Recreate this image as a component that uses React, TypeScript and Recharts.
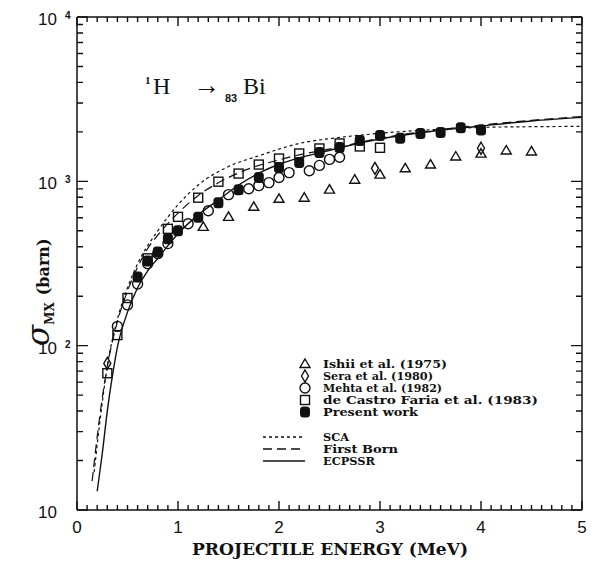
import { ComposedChart, Line, Scatter, XAxis, YAxis } from "recharts"

// measured points, energy in MeV, cross section in barn
const ishiiE = [1.25, 1.5, 1.75, 2.0, 2.25, 2.5, 2.75, 3.0, 3.25, 3.5, 3.75, 4.0, 4.25, 4.5]
const ishiiV = [528, 608, 700, 783, 795, 890, 1023, 1098, 1200, 1265, 1416, 1475, 1540, 1520]

const seraE = [0.3, 2.95, 4.0]
const seraV = [78, 1200, 1590]

const mehtaE = [0.4, 0.5, 0.6, 0.7, 0.8, 0.9, 1.1, 1.3, 1.5, 1.7, 1.8, 1.9, 2.0, 2.1, 2.3, 2.4, 2.5, 2.6]
const mehtaV = [131, 177, 237, 315, 363, 418, 552, 662, 830, 902, 942, 982, 1055, 1130, 1160, 1250, 1360, 1400]

const castroE = [0.3, 0.4, 0.5, 0.7, 0.9, 1.0, 1.2, 1.4, 1.6, 1.8, 2.0, 2.2, 2.4, 2.6, 2.8, 3.0]
const castroV = [68, 116, 195, 340, 514, 608, 795, 995, 1115, 1265, 1376, 1477, 1585, 1700, 1630, 1600]

const presentE = [0.6, 0.7, 0.8, 0.9, 1.0, 1.2, 1.4, 1.6, 1.8, 2.0, 2.2, 2.4, 2.6, 2.8, 3.0, 3.2, 3.4, 3.6, 3.8, 4.0]
const presentV = [262, 328, 372, 447, 500, 605, 741, 890, 1055, 1213, 1300, 1496, 1607, 1775, 1900, 1830, 1955, 1980, 2120, 2050]

// theory curves
const scaE = [0.17, 0.2, 0.25, 0.3, 0.4, 0.5, 0.6, 0.8, 1.0, 1.2, 1.5, 1.8, 2.2, 2.6, 3.0, 3.5, 4.0, 4.5, 5.0]
const scaV = [17, 25, 45, 75, 145, 225, 315, 500, 720, 950, 1230, 1430, 1700, 1850, 1960, 2060, 2130, 2150, 2160]

const bornE = [0.15, 0.2, 0.25, 0.3, 0.4, 0.5, 0.6, 0.7, 0.8, 1.0, 1.2, 1.4, 1.6, 1.8, 2.0, 2.2, 2.4, 2.6, 3.0, 3.5, 4.0, 4.5, 5.0]
const bornV = [15, 28, 48, 75, 140, 215, 300, 390, 470, 640, 820, 980, 1125, 1250, 1350, 1450, 1530, 1620, 1830, 2030, 2200, 2350, 2480]

const ecpssrE = [0.2, 0.25, 0.3, 0.35, 0.4, 0.5, 0.6, 0.7, 0.8, 1.0, 1.2, 1.4, 1.6, 1.8, 2.0, 2.2, 2.4, 2.6, 2.8, 3.0, 3.5, 4.0, 4.5, 5.0]
const ecpssrV = [13, 22, 40, 65, 98, 160, 225, 285, 340, 480, 625, 770, 950, 1120, 1270, 1390, 1490, 1600, 1710, 1810, 2010, 2170, 2330, 2450]

const xMajor = [0, 1, 2, 3, 4, 5]
const xMinor = Array.from({ length: 51 }, (_, i) => i / 10)
const yMajor = [10, 100, 1000, 10000]
const yMinor = [
  20, 30, 40, 50, 60, 70, 80, 90,
  200, 300, 400, 500, 600, 700, 800, 900,
  2000, 3000, 4000, 5000, 6000, 7000, 8000, 9000,
]

const pts = (e: number[], v: number[]) => e.map((x, i) => ({ e: x, v: v[i] }))

const INK = "#111"
const serif = "'DejaVu Serif', serif"
const sans = "'Liberation Sans', Arial, sans-serif"
const frame = { stroke: INK, strokeWidth: 1.5 }

// plot rectangle inside the chart surface
const W = 586
const H = 553
const PL = 69
const PR = 574
const PT = 9
const PB = 502

function XLabel({ x, y, payload }: any) {
  return (
    <text x={x} y={y + 23} textAnchor="middle" fontFamily={sans} fontSize={17} fill={INK}>
      {payload.value}
    </text>
  )
}

function YLabel({ x, y, payload }: any) {
  const exp = Math.round(Math.log10(payload.value))
  return (
    <g>
      <text x={x - 20} y={y + 8} textAnchor="end" fontFamily={sans} fontSize={17} fill={INK}>
        10
      </text>
      {exp > 1 && (
        <text x={x - 12} y={y + 2} fontFamily={sans} fontWeight="bold" fontSize={10} fill={INK}>
          {exp}
        </text>
      )}
    </g>
  )
}

// inward tick marks on all four sides of the frame
function FrameTicks() {
  const tx = (v: number) => PL + (v / 5) * (PR - PL)
  const ty = (v: number) => PB - ((Math.log10(v) - 1) / 3) * (PB - PT)
  const isMajorX = (v: number) => xMajor.some((m) => Math.abs(m - v) < 1e-6)
  const segs: string[] = []
  xMinor.forEach((v) => {
    const len = isMajorX(v) ? 9 : 5
    const x = tx(v)
    segs.push(`M${x},${PB}v${-len}`, `M${x},${PT}v${len}`)
  })
  yMinor.forEach((v) => {
    const y = ty(v)
    segs.push(`M${PL},${y}h6`, `M${PR},${y}h-6`)
  })
  yMajor.forEach((v) => {
    const y = ty(v)
    segs.push(`M${PL},${y}h11`, `M${PR},${y}h-11`)
  })
  return <path d={segs.join(" ")} stroke={INK} strokeWidth={1.4} fill="none" />
}

const triangle = (p: any) => (
  <path d={`M${p.cx},${p.cy - 5} L${p.cx + 5},${p.cy + 3.5} L${p.cx - 5},${p.cy + 3.5}Z`} fill="none" stroke={INK} strokeWidth={1.4} />
)
const diamond = (p: any) => (
  <path d={`M${p.cx},${p.cy - 6} L${p.cx + 3.5},${p.cy} L${p.cx},${p.cy + 6} L${p.cx - 3.5},${p.cy}Z`} fill="none" stroke={INK} strokeWidth={1.4} />
)
const ring = (p: any) => <circle cx={p.cx} cy={p.cy} r={5} fill="none" stroke={INK} strokeWidth={1.4} />
const box = (p: any) => <rect x={p.cx - 4.5} y={p.cy - 4.5} width={9} height={9} fill="none" stroke={INK} strokeWidth={1.4} />
const filled = (p: any) => <rect x={p.cx - 5} y={p.cy - 5.5} width={10} height={11} rx={3.5} fill={INK} />

const legendRows = [
  { label: "Ishii et al. (1975)", shape: triangle, y: 356, w: 124 },
  { label: "Sera et al. (1980)", shape: diamond, y: 368, w: 110 },
  { label: "Mehta et al. (1982)", shape: ring, y: 380, w: 119 },
  { label: "de Castro Faria et al. (1983)", shape: box, y: 392, w: 215 },
  { label: "Present work", shape: filled, y: 404, w: 95 },
]
const legendLines = [
  { label: "SCA", dash: "3 3", y: 429, w: 26 },
  { label: "First Born", dash: "9 5", y: 441, w: 75 },
  { label: "ECPSSR", dash: undefined, y: 453, w: 52 },
]

export default function App() {
  const common = { type: "number" as const, allowDataOverflow: true, interval: 0 as const }
  return (
    <div style={{ position: "absolute", left: 8, top: 8, width: W, height: H }}>
      <ComposedChart width={W} height={H} margin={{ top: 0, right: 0, bottom: 0, left: 0 }}>
        <XAxis xAxisId="bottom" dataKey="e" {...common} domain={[0, 5]} ticks={xMajor} height={H - PB} axisLine={frame} tickLine={false} tickSize={0} tickMargin={0} tick={(p: any) => <XLabel {...p} />} />
        <XAxis xAxisId="top" orientation="top" {...common} domain={[0, 5]} ticks={xMajor} height={PT} axisLine={frame} tickLine={false} tick={false} />
        <YAxis yAxisId="left" dataKey="v" {...common} scale="log" domain={[10, 10000]} ticks={yMajor} width={PL} axisLine={frame} tickLine={false} tickSize={0} tickMargin={0} tick={(p: any) => <YLabel {...p} />} />
        <YAxis yAxisId="right" orientation="right" {...common} scale="log" domain={[10, 10000]} ticks={yMajor} width={W - PR} axisLine={frame} tickLine={false} tick={false} />

        <Line xAxisId="bottom" yAxisId="left" data={pts(scaE, scaV)} dataKey="v" type="monotone" stroke={INK} strokeWidth={1.2} strokeDasharray="3 3" dot={false} isAnimationActive={false} />
        <Line xAxisId="bottom" yAxisId="left" data={pts(bornE, bornV)} dataKey="v" type="monotone" stroke={INK} strokeWidth={1.2} strokeDasharray="9 5" dot={false} isAnimationActive={false} />
        <Line xAxisId="bottom" yAxisId="left" data={pts(ecpssrE, ecpssrV)} dataKey="v" type="monotone" stroke={INK} strokeWidth={1.4} dot={false} isAnimationActive={false} />
        <Scatter xAxisId="bottom" yAxisId="left" data={pts(ishiiE, ishiiV)} dataKey="v" shape={triangle} isAnimationActive={false} />
        <Scatter xAxisId="bottom" yAxisId="left" data={pts(seraE, seraV)} dataKey="v" shape={diamond} isAnimationActive={false} />
        <Scatter xAxisId="bottom" yAxisId="left" data={pts(mehtaE, mehtaV)} dataKey="v" shape={ring} isAnimationActive={false} />
        <Scatter xAxisId="bottom" yAxisId="left" data={pts(castroE, castroV)} dataKey="v" shape={box} isAnimationActive={false} />
        <Scatter xAxisId="bottom" yAxisId="left" data={pts(presentE, presentV)} dataKey="v" shape={filled} isAnimationActive={false} />
      </ComposedChart>

      <svg width={W} height={H} style={{ position: "absolute", left: 0, top: 0, pointerEvents: "none" }}>
        <FrameTicks />

        {/* reaction label */}
        <text fontFamily="'Liberation Serif', serif" fill={INK}>
          <tspan x={137} y={76} fontSize={11} fontWeight="bold">1</tspan>
          <tspan x={145} y={86} fontSize={24}>H</tspan>
          <tspan x={185} y={86} fontSize={27}>→</tspan>
          <tspan x={217} y={94} fontSize={11} fontWeight="bold" fontFamily={sans}>83</tspan>
          <tspan x={235} y={86} fontSize={24}>Bi</tspan>
        </text>

        {/* y title */}
        <text transform="translate(41,338) rotate(-90)" fill={INK} fontFamily={serif}>
          <tspan fontSize={31} fontStyle="italic">σ</tspan>
          <tspan fontSize={12} fontWeight="bold" dy={5}>MX</tspan>
          <tspan fontSize={16} fontWeight="bold" dy={-5} dx={7}>(barn)</tspan>
        </text>

        {/* x title */}
        <text x={322} y={547} textAnchor="middle" fontFamily={serif} fontWeight="bold" fontSize={16} fill={INK} textLength={276} lengthAdjust="spacingAndGlyphs">
          PROJECTILE ENERGY (MeV)
        </text>

        {legendRows.map((r) => (
          <g key={r.label}>
            {r.shape({ cx: 297, cy: r.y })}
            <text x={315} y={r.y + 4} fontFamily={serif} fontWeight="bold" fontSize={11.5} fill={INK} textLength={r.w} lengthAdjust="spacingAndGlyphs">
              {r.label}
            </text>
          </g>
        ))}
        {legendLines.map((r) => (
          <g key={r.label}>
            <line x1={255} x2={297} y1={r.y} y2={r.y} stroke={INK} strokeWidth={1.3} strokeDasharray={r.dash} />
            <text x={315} y={r.y + 4} fontFamily={serif} fontWeight="bold" fontSize={11.5} fill={INK} textLength={r.w} lengthAdjust="spacingAndGlyphs">
              {r.label}
            </text>
          </g>
        ))}
      </svg>
    </div>
  )
}
